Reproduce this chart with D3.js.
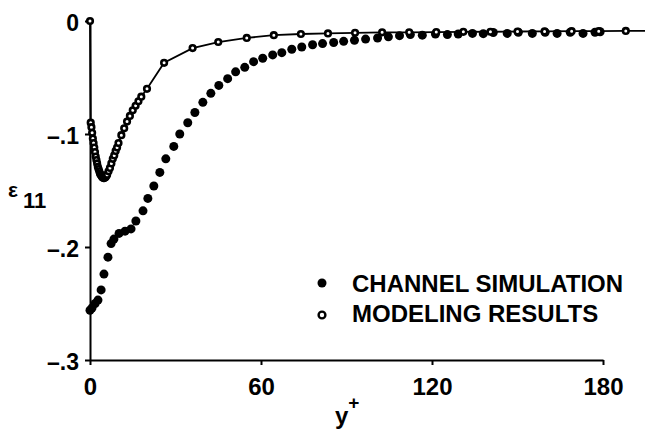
<!DOCTYPE html>
<html>
<head>
<meta charset="utf-8">
<script src="https://cdn.jsdelivr.net/npm/d3@7"></script>
<style>
  body { margin: 0; background: #fff; }
  text { font-family: "Liberation Sans", Arial, sans-serif; font-weight: bold; fill: #000; }
</style>
</head>
<body>
<svg></svg>
<script>
var width = 645;
var height = 430;

// channel simulation (filled dots)
var channelYplus = [0, 0.7, 1.8, 2.8, 3.9, 4.9, 6.3, 7.4, 8.4, 10.2, 12.3, 14.4, 16.1, 18.6, 20.3,
  22.4, 24.5, 26.6, 29.4, 31.5, 34.3, 36.8, 39.6, 42.4, 45.2, 48.3, 51.1, 54.3, 57.4, 60.6,
  64.1, 67.3, 70.8, 74.3, 78.1, 81.6, 85.5, 89.0, 92.8, 96.7, 100.9, 104.7, 108.6, 112.4,
  116.6, 121.2, 125.4, 129.2, 134.2, 138, 141.5, 146.4, 150.3, 155.2, 159.7, 163.9, 168.5,
  173, 177.2, 179];
var channelEps = [-0.256, -0.254, -0.250, -0.247, -0.238, -0.224, -0.209, -0.197, -0.193, -0.188,
  -0.186, -0.184, -0.177, -0.168, -0.157, -0.146, -0.134, -0.122, -0.111, -0.100, -0.090,
  -0.081, -0.072, -0.064, -0.057, -0.051, -0.045, -0.041, -0.036, -0.033, -0.030, -0.028,
  -0.025, -0.023, -0.021, -0.020, -0.019, -0.018, -0.017, -0.016, -0.015, -0.014, -0.013,
  -0.012, -0.0125, -0.0115, -0.012, -0.0115, -0.011, -0.0112, -0.0102, -0.011, -0.010,
  -0.011, -0.010, -0.011, -0.010, -0.011, -0.010, -0.0095];

// modeling results (open circles + line)
var modelYplus = [0, 0.25, 0.5, 0.75, 1, 1.25, 1.5, 1.75, 2, 2.25, 2.5, 2.75, 3, 3.25, 3.5, 3.75,
  4, 4.25, 4.5, 4.75, 5, 5.25, 5.5, 5.75, 6, 6.5, 7, 7.5, 8, 8.5, 9, 9.5, 10, 11, 12, 13, 14,
  15, 16, 17, 18, 20, 26, 36, 45, 55, 64.5, 74, 83.5, 93, 102.5, 112, 121.5, 131, 140.5, 150,
  159.5, 169, 178.5, 188];
var modelEps = [0, -0.090, -0.094, -0.099, -0.104, -0.108, -0.112, -0.116, -0.120, -0.123, -0.126,
  -0.129, -0.131, -0.133, -0.135, -0.136, -0.137, -0.138, -0.1385, -0.139, -0.139, -0.1385,
  -0.138, -0.137, -0.136, -0.133, -0.130, -0.126, -0.122, -0.119, -0.115, -0.112, -0.108,
  -0.101, -0.095, -0.089, -0.084, -0.079, -0.075, -0.071, -0.067, -0.060, -0.037, -0.024,
  -0.0186, -0.015, -0.0125, -0.0115, -0.011, -0.0105, -0.010, -0.010, -0.0098, -0.0096,
  -0.0095, -0.0093, -0.0092, -0.009, -0.009, -0.0088];
var modelTail = [196, -0.0088];

var xTicks = [0, 60, 120, 180];
var yTicks = [0, -0.1, -0.2, -0.3];
var yTickLabels = ["0", "\u2013.1", "\u2013.2", "\u2013.3"];
var legendLabels = ["CHANNEL SIMULATION", "MODELING RESULTS"];

var svg = d3.select('svg')
            .attr('width', width)
            .attr('height', height);

var x = d3.scaleLinear().domain([0, 180]).range([90, 603]);
var y = d3.scaleLinear().domain([0, -0.3]).range([21, 360]);

var channel = channelYplus.map((v, i) => [v, channelEps[i]]);
var model = modelYplus.map((v, i) => [v, modelEps[i]]);

// axes
var yAxis = svg.append("g")
  .attr("transform", "translate(" + x(0) + ",0)")
  .call(d3.axisLeft(y).tickValues(yTicks).tickSize(5).tickSizeOuter(0).tickPadding(6)
        .tickFormat((d, i) => yTickLabels[i]));
yAxis.selectAll("text").style("font-size", "23px").attr("dy", "0.4em");

var xAxis = svg.append("g")
  .attr("transform", "translate(0," + y(-0.3) + ")")
  .call(d3.axisBottom(x).tickValues(xTicks).tickSize(5).tickSizeOuter(0).tickPadding(13)
        .tickFormat(d3.format("d")));
xAxis.selectAll("text").style("font-size", "24px");

svg.selectAll(".domain, .tick line").attr("stroke", "#000").attr("stroke-width", 2);

// model line
var line = d3.line().x(d => x(d[0])).y(d => y(d[1]));
svg.append("path")
   .datum(model.concat([modelTail]))
   .attr("d", line)
   .attr("fill", "none")
   .attr("stroke", "#000")
   .attr("stroke-width", 1.8);

// channel dots
svg.append("g").selectAll("circle")
   .data(channel)
   .enter()
   .append("circle")
   .attr("cx", d => x(d[0]))
   .attr("cy", d => y(d[1]))
   .attr("r", 4.5)
   .attr("fill", "#000");

// model circles
svg.append("g").selectAll("circle")
   .data(model)
   .enter()
   .append("circle")
   .attr("cx", d => x(d[0]))
   .attr("cy", d => y(d[1]))
   .attr("r", 2.8)
   .attr("fill", "#fff")
   .attr("stroke", "#000")
   .attr("stroke-width", 2.6);

// legend
var legend = svg.append("g");
legend.append("circle").attr("cx", 322).attr("cy", 283).attr("r", 4.5).attr("fill", "#000");
legend.append("circle").attr("cx", 322).attr("cy", 315).attr("r", 3.4)
      .attr("fill", "#fff").attr("stroke", "#000").attr("stroke-width", 2.4);
legend.selectAll("text")
      .data(legendLabels)
      .enter()
      .append("text")
      .attr("x", 352)
      .attr("y", (d, i) => 292 + i * 30)
      .style("font-size", "24px")
      .text(d => d);

// axis titles
var ylab = svg.append("text").attr("x", 8).attr("y", 197);
ylab.append("tspan").style("font-size", "21px").text("\u03b5");
ylab.append("tspan").attr("x", 23).attr("dy", 11).style("font-size", "22px").text("11");

var xlab = svg.append("text").attr("x", 335).attr("y", 424);
xlab.append("tspan").style("font-size", "24px").text("y");
xlab.append("tspan").attr("dy", -15).style("font-size", "19px").text("+");
</script>
</body>
</html>
